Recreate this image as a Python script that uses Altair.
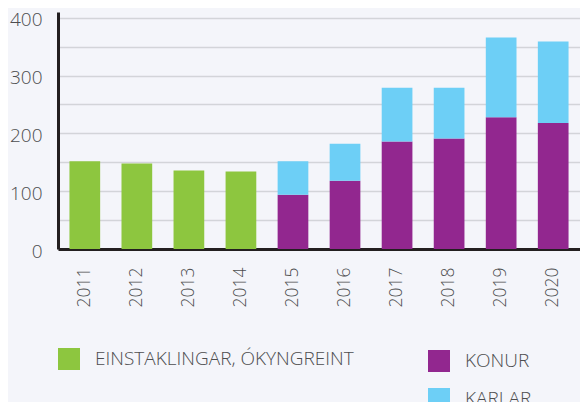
import altair as alt
import pandas as pd

# ---- data ----
years = ["2011", "2012", "2013", "2014", "2015", "2016", "2017", "2018", "2019", "2020"]
unspec_years = ["2011", "2012", "2013", "2014"]
unspec_values = [152, 148, 136, 134]
split_years = ["2015", "2016", "2017", "2018", "2019", "2020"]
konur = [94, 118, 186, 191, 228, 218]
karlar = [58, 64, 93, 88, 138, 141]

LBL_UNSPEC = "EINSTAKLINGAR, ÓKYNGREINT"
LBL_KONUR = "KONUR"
LBL_KARLAR = "KARLAR"

y_ticks = [0, 50, 100, 150, 200, 250, 300, 350, 400]

GREEN = "#8dc63f"
PURPLE = "#92278f"
BLUE = "#6dcff6"
BG = "#f4f5fa"
TXT = "#4d4d4f"
AXIS = "#231f20"
GRID = "#d3d4d9"
FONT = "Open Sans"
WEIGHT = 300

df1 = pd.DataFrame({"year": unspec_years, "value": unspec_values, "series": LBL_UNSPEC})
df2 = pd.DataFrame({
    "year": split_years + split_years,
    "value": konur + karlar,
    "series": [LBL_KONUR] * len(konur) + [LBL_KARLAR] * len(karlar),
    "ord": [0] * len(konur) + [1] * len(karlar),
})

xenc = alt.X(
    "year:O",
    title=None,
    scale=alt.Scale(domain=years, paddingInner=0.41, paddingOuter=0.22),
    axis=alt.Axis(
        labelAngle=-90, labelFontSize=17.5, labelFont=FONT, labelFontWeight=WEIGHT,
        labelColor=TXT, labelPadding=18, ticks=False, domainColor=AXIS, domainWidth=3,
        grid=False, labelBaseline="middle",
    ),
)
yenc = alt.Y(
    "value:Q",
    title=None,
    scale=alt.Scale(domain=[0, 410], nice=False),
    axis=alt.Axis(
        values=y_ticks,
        labelExpr="datum.value % 100 == 0 ? datum.label : ''",
        labelFontSize=19, labelFont=FONT, labelFontWeight=WEIGHT, labelColor=TXT,
        labelPadding=16, labelOffset=2,
        ticks=False, domainColor=AXIS, domainWidth=3,
        grid=True, gridColor=GRID, gridWidth=1.5,
    ),
)

green = alt.Chart(df1).mark_bar().encode(
    x=xenc,
    y=yenc,
    color=alt.Color(
        "series:N",
        scale=alt.Scale(domain=[LBL_UNSPEC], range=[GREEN]),
        legend=alt.Legend(title=None, orient="none", legendX=0, legendY=336, direction="vertical"),
    ),
)

split = alt.Chart(df2).mark_bar().encode(
    x=xenc,
    y=yenc,
    color=alt.Color(
        "series:N",
        scale=alt.Scale(domain=[LBL_KONUR, LBL_KARLAR], range=[PURPLE, BLUE]),
        legend=alt.Legend(title=None, orient="none", legendX=370, legendY=338, direction="vertical"),
    ),
    order=alt.Order("ord:Q"),
)

chart = (
    alt.layer(green, split)
    .resolve_scale(color="independent")
    .properties(
        width=522,
        height=237,
        autosize=alt.AutoSizeParams(type="none"),
        padding={"left": 50, "top": 4, "right": 0, "bottom": 153},
        background=BG,
    )
    .configure_view(stroke=None)
    .configure_legend(
        symbolType="square", symbolSize=484, symbolStrokeWidth=0,
        labelFontSize=19, labelFont=FONT, labelFontWeight=WEIGHT, labelColor=TXT,
        labelOffset=15, labelLimit=400, rowPadding=16, padding=0,
    )
)

chart.save("out.html", embed_options={"renderer": "svg", "actions": False})
